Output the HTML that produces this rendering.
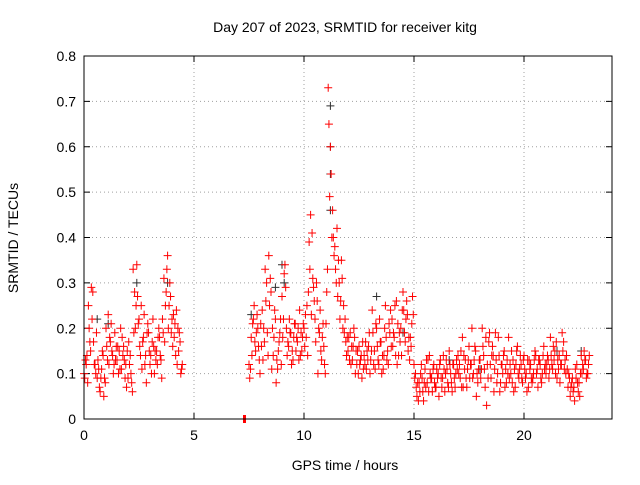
<!DOCTYPE html>
<html><head><meta charset="utf-8"><style>
body{margin:0;background:#fff;}
svg text{font-family:"Liberation Sans",sans-serif;font-size:14px;fill:#000;}
</style></head><body>
<svg id="chart" width="640" height="480" xmlns="http://www.w3.org/2000/svg">
<rect width="640" height="480" fill="#fff"/>
<text x="345" y="32" text-anchor="middle">Day 207 of 2023, SRMTID for receiver kitg</text>
<text x="345" y="470" text-anchor="middle">GPS time / hours</text>
<text transform="translate(18,238) rotate(-90)" text-anchor="middle">SRMTID / TECUs</text>
<g id="grid"></g>
<g id="ticks"></g>
<g id="black"></g>
<g id="red"></g>
<rect x="84" y="56" width="528" height="363" fill="none" stroke="#000" stroke-width="1"/>
</svg>
<script>
const xTicks=[0,5,10,15,20];
const yTicks=[0,0.1,0.2,0.3,0.4,0.5,0.6,0.7,0.8];
const yTickLabels=["0","0.1","0.2","0.3","0.4","0.5","0.6","0.7","0.8"];
const seg1Start=0.0, seg2Start=7.5, sampleStep=0.1;
const seg1A=[0.10,0.12,0.25,0.15,0.28,0.12,0.09,0.07,0.11,0.05,0.20,0.23,0.17,0.14,0.19,0.13,0.15,0.11,0.16,0.12,0.09,0.14,0.06,0.28,0.34,0.22,0.25,0.18,0.14,0.21,0.12,0.17,0.10,0.15,0.20,0.13,0.19,0.25,0.36,0.30,0.22,0.18,0.24,0.15,0.10];
const seg1B=[0.09,0.14,0.20,0.29,0.17,0.10,0.13,0.06,0.15,0.09,0.16,0.12,0.21,0.10,0.13,0.16,0.11,0.18,0.13,0.07,0.17,0.10,0.33,0.20,0.27,0.16,0.11,0.23,0.08,0.19,0.14,0.22,0.15,0.12,0.18,0.09,0.31,0.28,0.20,0.27,0.16,0.21,0.12,0.19,0.11];
const seg1C=[0.13,0.08,0.17,0.22,0.12,0.19,0.11,0.09,0.14,0.08,0.13,0.18,0.15,0.12,0.16,0.10,0.20,0.14,0.09,0.15,0.12,0.08,0.19,0.25,0.21,0.14,0.17,0.12,0.19,0.15,0.10,0.16,0.13,0.18,0.14,0.22,0.17,0.33,0.25,0.19,0.23,0.14,0.20,0.17,0.12];
const seg2A=[0.12,0.18,0.22,0.15,0.20,
0.10,0.24,0.17,0.30,0.36,0.28,0.14,0.22,0.11,0.19,
0.27,0.32,0.20,0.16,0.19,0.13,0.21,0.17,0.24,0.15,
0.20,0.18,0.28,0.45,0.31,0.22,0.26,0.19,0.13,0.16,
0.21,0.73,0.60,0.46,0.38,0.42,0.30,0.35,0.25,0.17,
0.15,0.19,0.13,0.18,0.12,0.16,0.14,0.11,0.17,0.13,
0.10,0.24,0.15,0.20,0.12,0.17,0.11,0.25,0.15,0.19,
0.22,0.18,0.26,0.14,0.20,0.28,0.17,0.23,0.13,0.21,
0.12,0.07,0.04,0.10,0.06,0.11,0.08,0.14,0.09,0.12,
0.07,0.10,0.13,0.09,0.06,0.11,0.15,0.08,0.12,0.10,
0.14,0.09,0.18,0.11,0.07,0.16,0.12,0.10,0.15,0.08,
0.13,0.20,0.11,0.03,0.17,0.09,0.14,0.19,0.10,0.06,
0.12,0.15,0.08,0.18,0.10,0.13,0.07,0.16,0.11,0.09,
0.14,0.10,0.07,0.12,0.09,0.15,0.11,0.13,0.08,0.16,
0.10,0.13,0.18,0.11,0.15,0.09,0.14,0.12,0.17,0.10,
0.07,0.05,0.09,0.04,0.12,0.08,0.14,0.11,0.13,0.10];
const seg2B=[0.09,0.14,0.25,0.19,0.16,
0.21,0.13,0.33,0.19,0.25,0.11,0.18,0.08,0.15,0.22,
0.18,0.34,0.14,0.22,0.12,0.18,0.15,0.20,0.14,0.18,
0.16,0.25,0.39,0.23,0.29,0.17,0.10,0.24,0.18,0.12,
0.28,0.65,0.54,0.40,0.33,0.27,0.22,0.31,0.19,0.14,
0.18,0.12,0.16,0.10,0.15,0.12,0.09,0.14,0.11,0.16,
0.13,0.19,0.11,0.16,0.22,0.10,0.14,0.18,0.12,0.24,
0.16,0.25,0.12,0.19,0.14,0.24,0.22,0.15,0.18,0.27,
0.09,0.05,0.08,0.12,0.04,0.07,0.13,0.10,0.06,0.08,
0.11,0.05,0.09,0.14,0.10,0.08,0.12,0.06,0.09,0.13,
0.10,0.15,0.07,0.13,0.11,0.09,0.20,0.13,0.05,0.11,
0.09,0.16,0.07,0.12,0.19,0.14,0.06,0.13,0.18,0.08,
0.10,0.07,0.13,0.09,0.15,0.06,0.12,0.10,0.14,0.08,
0.11,0.06,0.13,0.09,0.10,0.14,0.07,0.12,0.10,0.11,
0.12,0.09,0.14,0.16,0.10,0.13,0.08,0.19,0.11,0.14,
0.10,0.07,0.06,0.11,0.08,0.05,0.10,0.15,0.09,0.12];
const seg2C=[0.11,0.21,0.17,0.23,0.13,
0.16,0.20,0.26,0.14,0.31,0.20,0.24,0.13,0.17,0.12,
0.22,0.29,0.17,0.19,0.15,0.21,0.18,0.13,0.19,0.21,
0.23,0.14,0.33,0.41,0.26,0.30,0.20,0.15,0.21,0.10,
0.33,0.49,0.40,0.36,0.30,0.35,0.26,0.20,0.22,0.18,
0.13,0.16,0.20,0.15,0.10,0.13,0.17,0.12,0.15,0.19,
0.15,0.12,0.21,0.13,0.17,0.14,0.20,0.13,0.21,0.16,
0.19,0.14,0.21,0.17,0.24,0.19,0.26,0.18,0.16,0.23,
0.10,0.08,0.06,0.09,0.08,0.13,0.06,0.09,0.11,0.07,
0.09,0.12,0.07,0.11,0.13,0.07,0.10,0.12,0.07,0.11,
0.12,0.07,0.14,0.09,0.13,0.12,0.09,0.16,0.10,0.13,
0.11,0.14,0.18,0.09,0.12,0.16,0.11,0.08,0.14,0.12,
0.14,0.11,0.10,0.12,0.08,0.11,0.15,0.09,0.12,0.13,
0.09,0.13,0.11,0.08,0.13,0.10,0.13,0.09,0.14,0.12,
0.14,0.11,0.12,0.13,0.17,0.11,0.12,0.15,0.13,0.11,
0.09,0.08,0.07,0.09,0.06,0.10,0.12,0.13,0.10,0.14];
const blackTimes=[0.6,3.8,9.0,9.1,11.2,11.2,11.2,11.2,8.7,13.3,21.5,22.6,1.1,2.4,7.6,18.0,16.6,14.5];
const blackValues=[0.22,0.30,0.34,0.30,0.69,0.60,0.54,0.46,0.29,0.27,0.15,0.15,0.21,0.30,0.23,0.11,0.13,0.19];
const zeroTimes=[7.25,7.28,7.31,7.34];
const zeroValues=[0,0,0,0];

const X0=84,X1=612,Y0=419,Y1=56,XMAX=24,YMAX=0.8;
const xs=t=>X0+(X1-X0)*t/XMAX;
const ys=v=>Y0-(Y0-Y1)*v/YMAX;
const NS="http://www.w3.org/2000/svg";
function mk(tag,attrs,parent){const e=document.createElementNS(NS,tag);for(const k in attrs)e.setAttribute(k,attrs[k]);parent.appendChild(e);return e;}
const grid=document.getElementById('grid'),ticks=document.getElementById('ticks');
xTicks.forEach(t=>{
  const x=xs(t);
  if(t>0){const g=mk('line',{x1:x,x2:x,y1:Y1,y2:Y0,stroke:'#a0a0a0','stroke-dasharray':'1,3'},grid);
  
  }
  mk('line',{x1:x,x2:x,y1:Y0,y2:Y0-6,stroke:'#000'},ticks);
  mk('line',{x1:x,x2:x,y1:Y1,y2:Y1+6,stroke:'#000'},ticks);
  const l=mk('text',{x:x,y:Y0+21,'text-anchor':'middle'},ticks);l.textContent=String(t);
  
  
});
yTicks.forEach((v,i)=>{
  const y=ys(v);
  if(v>0&&v<YMAX){const g=mk('line',{x1:X0,x2:X1,y1:y,y2:y,stroke:'#a0a0a0','stroke-dasharray':'1,3'},grid);
  
  }
  mk('line',{x1:X0,x2:X0+6,y1:y,y2:y,stroke:'#000'},ticks);
  mk('line',{x1:X1,x2:X1-6,y1:y,y2:y,stroke:'#000'},ticks);
  const l=mk('text',{x:X0-8,y:y+5,'text-anchor':'end'},ticks);l.textContent=yTickLabels[i];
  
  
});
function plus(g,t,v,color){
  const x=xs(t),y=ys(v);
  const p=mk('path',{d:`M${x-4},${y}h8M${x},${y-4}v8`,stroke:color,'stroke-width':1,fill:'none'},g);
  
  
}
const black=document.getElementById('black'),red=document.getElementById('red');
blackTimes.forEach((t,i)=>plus(black,t,blackValues[i],'#303030'));
const passes=[[seg1A,seg1Start,0],[seg1B,seg1Start,1/3],[seg1C,seg1Start,2/3],[seg2A,seg2Start,0],[seg2B,seg2Start,1/3],[seg2C,seg2Start,2/3]];
passes.forEach(([arr,start,off])=>arr.forEach((v,i)=>plus(red,start+(i+off)*sampleStep,v,'#ff0000')));
zeroTimes.forEach((t,i)=>plus(red,t,zeroValues[i],'#ff0000'));
</script>
</body></html>
